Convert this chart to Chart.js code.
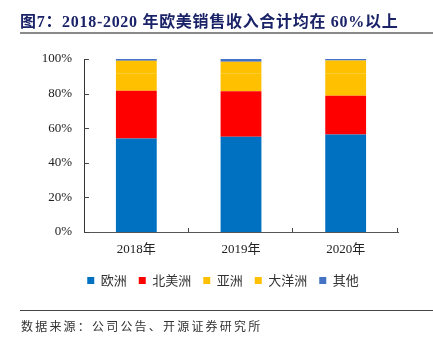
<!DOCTYPE html>
<html>
<head>
<meta charset="utf-8">
<script src="https://cdn.jsdelivr.net/npm/chart.js@4/dist/chart.umd.min.js"></script>
<style>
  html, body { margin: 0; padding: 0; background: #fff; }
  body { width: 433px; height: 344px; position: relative; overflow: hidden; }
  #title {
    position: absolute; left: 20px; top: 8px;
    font-family: "Liberation Serif", "Noto Sans CJK SC", serif;
    font-weight: bold; font-size: 16px; letter-spacing: 0.7px; color: #1b2368; white-space: nowrap;
  }
  #titleRule { position: absolute; left: 20px; top: 32px; width: 413px; height: 2px; background: #8a8a8a; }
  #footRule { position: absolute; left: 20px; top: 310px; width: 413px; height: 1px; background: #444; }
  #foot {
    position: absolute; left: 21px; top: 317px;
    font-family: "Noto Sans CJK SC", sans-serif; font-size: 12px; letter-spacing: 2.2px;
    color: #333; white-space: nowrap;
  }
  #c { position: absolute; left: 0; top: 0; }
</style>
</head>
<body>
<canvas id="c" width="433" height="344"></canvas>
<div id="title">图7：2018-2020 年欧美销售收入合计均在 60%以上</div>
<div id="titleRule"></div>
<div id="footRule"></div>
<div id="foot">数据来源：公司公告、开源证券研究所</div>
<script>
// Revenue share by region (%)
const years = ['2018年', '2019年', '2020年'];
const europe = [54.0, 55.0, 56.3];
const northAmerica = [27.6, 26.3, 22.4];
const asia = [10.1, 10.4, 13.0];
const oceania = [7.3, 6.7, 7.5];
const others = [1.0, 1.6, 0.8];
const yTicks = [0, 20, 40, 60, 80, 100];

const serif = '"Liberation Serif", "Noto Sans CJK SC", serif';

// Small tick marks drawn on the inner side of both axes
const innerTicks = {
  id: 'innerTicks',
  afterDatasetsDraw(chart) {
    const { ctx, chartArea, scales } = chart;
    ctx.save();
    ctx.strokeStyle = '#444';
    ctx.lineWidth = 1;
    ctx.beginPath();
    yTicks.forEach(v => {
      const y = Math.round(scales.y.getPixelForValue(v)) + 0.5;
      ctx.moveTo(chartArea.left, y);
      ctx.lineTo(chartArea.left + 5, y);
    });
    const n = years.length;
    const w = (scales.x.right - scales.x.left) / n;
    for (let i = 1; i <= n; i++) {
      const x = Math.round(scales.x.left + i * w) - 0.5;
      ctx.moveTo(x, chartArea.bottom);
      ctx.lineTo(x, chartArea.bottom - 4);
    }
    ctx.stroke();
    ctx.restore();
  }
};

// Nudge the legend row to the right
const legendShift = {
  id: 'legendShift',
  afterLayout(chart) {
    const lg = chart.legend;
    if (lg) { lg.left += 24; lg.right += 24; }
  }
};

new Chart(document.getElementById('c'), {
  type: 'bar',
  data: {
    labels: years,
    datasets: [
      { label: '欧洲', data: europe, backgroundColor: '#0070C0' },
      { label: '北美洲', data: northAmerica, backgroundColor: '#FF0000' },
      { label: '亚洲', data: asia, backgroundColor: '#FFC000' },
      { label: '大洋洲', data: oceania, backgroundColor: '#FFC000' },
      { label: '其他', data: others, backgroundColor: '#4472C4' }
    ]
  },
  options: {
    responsive: false,
    animation: false,
    devicePixelRatio: 1,
    layout: { padding: { left: 0, right: 35, top: 59, bottom: 47 } },
    datasets: { bar: { barPercentage: 0.39, categoryPercentage: 1 } },
    scales: {
      x: {
        stacked: true,
        grid: { display: false, drawTicks: false },
        border: { color: '#555', width: 1 },
        ticks: { font: { family: serif, size: 13 }, color: '#222', padding: 10 },
        afterFit(s) { s.height = 30; }
      },
      y: {
        stacked: true,
        min: 0, max: 100,
        grid: { display: false, drawTicks: false },
        border: { color: '#333', width: 1 },
        ticks: {
          stepSize: 20,
          padding: 12,
          font: { family: serif, size: 13 },
          color: '#222',
          callback: v => v + '%'
        },
        afterFit(s) { s.width = 84; }
      }
    },
    plugins: {
      legend: {
        position: 'bottom',
        labels: {
          boxWidth: 7, boxHeight: 7, padding: 12,
          font: { family: '"Noto Sans CJK SC", sans-serif', size: 13 },
          color: '#333'
        }
      },
      tooltip: { enabled: false }
    }
  },
  plugins: [innerTicks, legendShift]
});
</script>
</body>
</html>
